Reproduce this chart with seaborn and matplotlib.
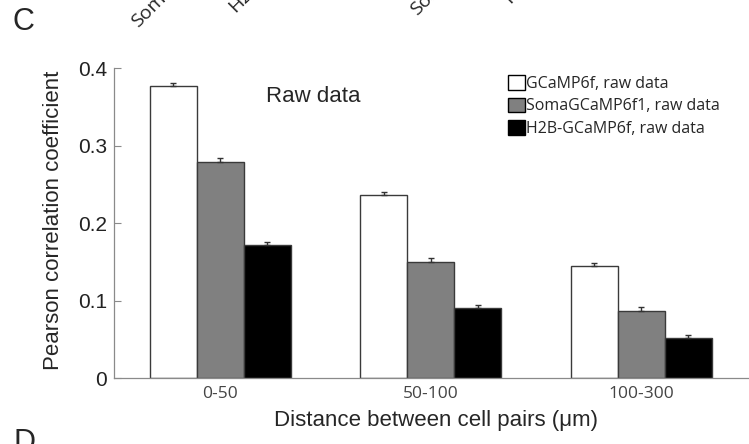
import matplotlib
matplotlib.use("Agg")
import matplotlib.pyplot as plt
import numpy as np
import pandas as pd
import seaborn as sns
from matplotlib.patches import Patch

# Mean Pearson correlation per distance bin and indicator
distances = ["0-50", "50-100", "100-300"]
groups = ["GCaMP6f, raw data", "SomaGCaMP6f1, raw data", "H2B-GCaMP6f, raw data"]
gcamp = [0.377, 0.236, 0.145]
soma = [0.279, 0.150, 0.087]
h2b = [0.171, 0.090, 0.051]
gcamp_err = [0.004, 0.004, 0.004]
soma_err = [0.005, 0.005, 0.005]
h2b_err = [0.004, 0.0045, 0.004]
yticks = [0, 0.1, 0.2, 0.3, 0.4]
ytick_labels = ["0", "0.1", "0.2", "0.3", "0.4"]
top_labels = ["SomaGCaMP6f1", "H2B-GCaMP6f", "SomaGCaMP6f1", "H2B-GCaMP6f"]

sns.set_style("white")
plt.rcParams["font.family"] = ["Liberation Sans", "DejaVu Sans"]

df = pd.DataFrame({
    "distance": distances * 3,
    "group": [groups[0]] * 3 + [groups[1]] * 3 + [groups[2]] * 3,
    "value": gcamp + soma + h2b,
})
errors = [gcamp_err, soma_err, h2b_err]
fills = ["#ffffff", "#808080", "#000000"]

W, H = 749, 444
fig = plt.figure(figsize=(W / 100, H / 100), dpi=100)
ax = fig.add_axes([114 / W, 1 - 378 / H, (W - 114) / W, 310 / H])

sns.barplot(data=df, x="distance", y="value", hue="group",
            order=distances, hue_order=groups, palette=fills,
            saturation=1, width=0.67, errorbar=None,
            edgecolor="#3a3a3a", linewidth=1.0, legend=False, ax=ax)

# Upper error bars (SEM) on each bar
for container, errs in zip(ax.containers, errors):
    for bar, e in zip(container, errs):
        x = bar.get_x() + bar.get_width() / 2
        y = bar.get_height()
        ax.errorbar(x, y, yerr=[[0], [e]], fmt="none", ecolor="#333333",
                    elinewidth=1.0, capsize=2, capthick=1.0, zorder=5)

ax.set_xlim(-0.504, 2.513)
ax.set_ylim(0, 0.4)
ax.set_yticks(yticks)
ax.set_yticklabels(ytick_labels, fontsize=15, color="#222222")
ax.set_xticks(range(len(distances)))
ax.set_xticklabels(distances, fontsize=12.5, color="#444444",
                   family=["Open Sans", "DejaVu Sans"])
ax.tick_params(axis="both", direction="in", length=5, width=0.8,
               color="#8a8a8a", left=True, bottom=True)
ax.tick_params(axis="y", pad=5)
ax.tick_params(axis="x", pad=6)

for side in ["top", "right"]:
    ax.spines[side].set_visible(False)
for side in ["left", "bottom"]:
    ax.spines[side].set_color("#8a8a8a")
    ax.spines[side].set_linewidth(0.9)

ax.set_xlabel("Distance between cell pairs (μm)", fontsize=16)
ax.xaxis.set_label_coords((436 - 114) / (W - 114), (378 - 410) / 310)
ax.set_ylabel("Pearson correlation coefficient", fontsize=16)
ax.yaxis.set_label_coords((64 - 114) / (W - 114), (378 - 220) / 310)

fig.text(266 / W, 1 - 97 / H, "Raw data", fontsize=16, ha="left", va="center")

handles = [Patch(facecolor=c, edgecolor="#000000", linewidth=1.0) for c in fills]
fig.legend(handles, groups, loc="upper left",
           bbox_to_anchor=(508 / W, 1 - 75 / H), frameon=False,
           prop={"family": ["Open Sans", "DejaVu Sans"], "size": 11.5},
           handlelength=1.05, handleheight=1.05, handletextpad=0.1,
           labelspacing=0.36, borderpad=0, borderaxespad=0)

# Panel letters
fig.text(12 / W, 1 - 22 / H, "C", fontsize=22, ha="left", va="center")
fig.text(14 / W, 1 - 428 / H, "D", fontsize=22, ha="left", va="top")

# Rotated category labels of the panel above, running off the top edge
for (px, py), lab in zip([(138, 28), (235, 13), (417, 16), (510, 4)], top_labels):
    fig.text(px / W, 1 - py / H, lab, fontsize=14, rotation=45,
             rotation_mode="anchor", ha="left", va="baseline",
             family=["Open Sans", "DejaVu Sans"])

fig.savefig("out.png", dpi=100, facecolor="white")
